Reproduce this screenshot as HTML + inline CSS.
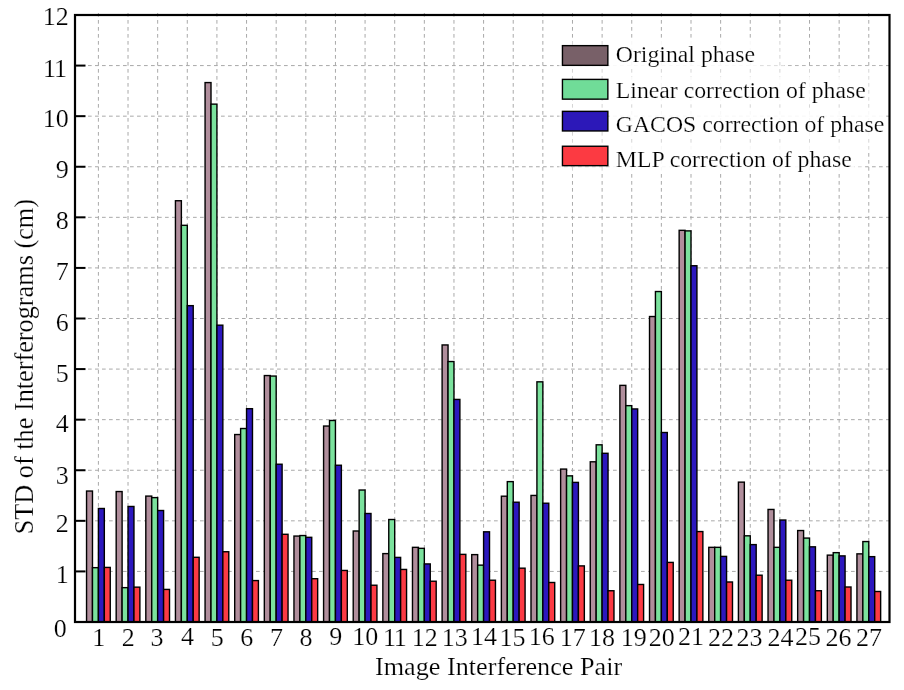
<!DOCTYPE html>
<html lang="en"><head><meta charset="utf-8"><title>STD of the Interferograms</title>
<style>html,body{margin:0;padding:0;background:#fff}body{width:904px;height:690px;overflow:hidden}svg{display:block}</style>
</head><body>
<svg width="904" height="690" viewBox="0 0 904 690">
<rect width="904" height="690" fill="#fff"/>
<g stroke="#a9a9a9" stroke-width="1" stroke-dasharray="3.7 3.3" fill="none">
<path d="M74 571.42H889.5"/>
<path d="M74 520.83H889.5"/>
<path d="M74 470.25H889.5"/>
<path d="M74 419.67H889.5"/>
<path d="M74 369.08H889.5"/>
<path d="M74 318.5H889.5"/>
<path d="M74 267.92H889.5"/>
<path d="M74 217.33H889.5"/>
<path d="M74 166.75H889.5"/>
<path d="M74 116.17H889.5"/>
<path d="M74 65.58H889.5"/>
<path d="M98.4 13V622"/>
<path d="M128.03 13V622"/>
<path d="M157.66 13V622"/>
<path d="M187.29 13V622"/>
<path d="M216.92 13V622"/>
<path d="M246.55 13V622"/>
<path d="M276.18 13V622"/>
<path d="M305.81 13V622"/>
<path d="M335.44 13V622"/>
<path d="M365.07 13V622"/>
<path d="M394.7 13V622"/>
<path d="M424.33 13V622"/>
<path d="M453.96 13V622"/>
<path d="M483.59 13V622"/>
<path d="M513.22 13V622"/>
<path d="M542.85 13V622"/>
<path d="M572.48 13V622"/>
<path d="M602.11 13V622"/>
<path d="M631.74 13V622"/>
<path d="M661.37 13V622"/>
<path d="M691 13V622"/>
<path d="M720.63 13V622"/>
<path d="M750.26 13V622"/>
<path d="M779.89 13V622"/>
<path d="M809.52 13V622"/>
<path d="M839.15 13V622"/>
<path d="M868.78 13V622"/>
</g>
<g stroke="#000" stroke-width="1.4" stroke-linejoin="miter">
<rect x="86.55" y="491.04" width="5.93" height="130.96" fill="#b08e9c"/>
<rect x="92.47" y="567.67" width="5.93" height="54.33" fill="#7be29d"/>
<rect x="98.4" y="508.49" width="5.93" height="113.51" fill="#2c18be"/>
<rect x="104.33" y="567.42" width="5.93" height="54.58" fill="#fc3a44"/>
<rect x="116.18" y="491.55" width="5.93" height="130.45" fill="#b08e9c"/>
<rect x="122.1" y="587.65" width="5.93" height="34.35" fill="#7be29d"/>
<rect x="128.03" y="506.47" width="5.93" height="115.53" fill="#2c18be"/>
<rect x="133.96" y="587.15" width="5.93" height="34.85" fill="#fc3a44"/>
<rect x="145.81" y="496.1" width="5.93" height="125.9" fill="#b08e9c"/>
<rect x="151.73" y="497.62" width="5.93" height="124.38" fill="#7be29d"/>
<rect x="157.66" y="510.51" width="5.93" height="111.49" fill="#2c18be"/>
<rect x="163.59" y="589.42" width="5.93" height="32.58" fill="#fc3a44"/>
<rect x="175.44" y="200.74" width="5.93" height="421.26" fill="#b08e9c"/>
<rect x="181.36" y="225.32" width="5.93" height="396.68" fill="#7be29d"/>
<rect x="187.29" y="305.65" width="5.93" height="316.35" fill="#2c18be"/>
<rect x="193.22" y="557.3" width="5.93" height="64.7" fill="#fc3a44"/>
<rect x="205.07" y="82.58" width="5.93" height="539.42" fill="#b08e9c"/>
<rect x="210.99" y="104.13" width="5.93" height="517.87" fill="#7be29d"/>
<rect x="216.92" y="325.18" width="5.93" height="296.82" fill="#2c18be"/>
<rect x="222.85" y="551.74" width="5.93" height="70.26" fill="#fc3a44"/>
<rect x="234.7" y="434.54" width="5.93" height="187.46" fill="#b08e9c"/>
<rect x="240.62" y="428.52" width="5.93" height="193.48" fill="#7be29d"/>
<rect x="246.55" y="408.69" width="5.93" height="213.31" fill="#2c18be"/>
<rect x="252.48" y="580.57" width="5.93" height="41.43" fill="#fc3a44"/>
<rect x="264.33" y="375.56" width="5.93" height="246.44" fill="#b08e9c"/>
<rect x="270.25" y="376.06" width="5.93" height="245.94" fill="#7be29d"/>
<rect x="276.18" y="464.23" width="5.93" height="157.77" fill="#2c18be"/>
<rect x="282.11" y="534.29" width="5.93" height="87.71" fill="#fc3a44"/>
<rect x="293.96" y="536.06" width="5.93" height="85.94" fill="#b08e9c"/>
<rect x="299.88" y="535.55" width="5.93" height="86.45" fill="#7be29d"/>
<rect x="305.81" y="537.32" width="5.93" height="84.68" fill="#2c18be"/>
<rect x="311.74" y="578.7" width="5.93" height="43.3" fill="#fc3a44"/>
<rect x="323.59" y="426.04" width="5.93" height="195.96" fill="#b08e9c"/>
<rect x="329.51" y="420.48" width="5.93" height="201.52" fill="#7be29d"/>
<rect x="335.44" y="465.24" width="5.93" height="156.76" fill="#2c18be"/>
<rect x="341.37" y="570.45" width="5.93" height="51.55" fill="#fc3a44"/>
<rect x="353.22" y="531" width="5.93" height="91" fill="#b08e9c"/>
<rect x="359.14" y="490.03" width="5.93" height="131.97" fill="#7be29d"/>
<rect x="365.07" y="513.5" width="5.93" height="108.5" fill="#2c18be"/>
<rect x="371" y="585.23" width="5.93" height="36.77" fill="#fc3a44"/>
<rect x="382.85" y="553.61" width="5.93" height="68.39" fill="#b08e9c"/>
<rect x="388.77" y="519.52" width="5.93" height="102.48" fill="#7be29d"/>
<rect x="394.7" y="557.4" width="5.93" height="64.6" fill="#2c18be"/>
<rect x="400.63" y="569.44" width="5.93" height="52.56" fill="#fc3a44"/>
<rect x="412.48" y="547.34" width="5.93" height="74.66" fill="#b08e9c"/>
<rect x="418.4" y="548.35" width="5.93" height="73.65" fill="#7be29d"/>
<rect x="424.33" y="563.93" width="5.93" height="58.07" fill="#2c18be"/>
<rect x="430.26" y="581.23" width="5.93" height="40.77" fill="#fc3a44"/>
<rect x="442.11" y="344.95" width="5.93" height="277.05" fill="#b08e9c"/>
<rect x="448.03" y="361.55" width="5.93" height="260.45" fill="#7be29d"/>
<rect x="453.96" y="399.43" width="5.93" height="222.57" fill="#2c18be"/>
<rect x="459.89" y="554.37" width="5.93" height="67.63" fill="#fc3a44"/>
<rect x="471.74" y="554.62" width="5.93" height="67.38" fill="#b08e9c"/>
<rect x="477.66" y="565.14" width="5.93" height="56.86" fill="#7be29d"/>
<rect x="483.59" y="531.81" width="5.93" height="90.19" fill="#2c18be"/>
<rect x="489.52" y="580.22" width="5.93" height="41.78" fill="#fc3a44"/>
<rect x="501.37" y="496.2" width="5.93" height="125.8" fill="#b08e9c"/>
<rect x="507.29" y="481.63" width="5.93" height="140.37" fill="#7be29d"/>
<rect x="513.22" y="502.22" width="5.93" height="119.78" fill="#2c18be"/>
<rect x="519.15" y="568.18" width="5.93" height="53.82" fill="#fc3a44"/>
<rect x="531" y="495.44" width="5.93" height="126.56" fill="#b08e9c"/>
<rect x="536.92" y="381.83" width="5.93" height="240.17" fill="#7be29d"/>
<rect x="542.85" y="503.23" width="5.93" height="118.77" fill="#2c18be"/>
<rect x="548.78" y="582.49" width="5.93" height="39.51" fill="#fc3a44"/>
<rect x="560.63" y="469.09" width="5.93" height="152.91" fill="#b08e9c"/>
<rect x="566.55" y="475.86" width="5.93" height="146.14" fill="#7be29d"/>
<rect x="572.48" y="482.39" width="5.93" height="139.61" fill="#2c18be"/>
<rect x="578.41" y="565.9" width="5.93" height="56.1" fill="#fc3a44"/>
<rect x="590.26" y="461.8" width="5.93" height="160.2" fill="#b08e9c"/>
<rect x="596.18" y="444.81" width="5.93" height="177.19" fill="#7be29d"/>
<rect x="602.11" y="453.3" width="5.93" height="168.7" fill="#2c18be"/>
<rect x="608.04" y="590.74" width="5.93" height="31.26" fill="#fc3a44"/>
<rect x="619.89" y="385.37" width="5.93" height="236.63" fill="#b08e9c"/>
<rect x="625.81" y="405.65" width="5.93" height="216.35" fill="#7be29d"/>
<rect x="631.74" y="408.94" width="5.93" height="213.06" fill="#2c18be"/>
<rect x="637.67" y="584.47" width="5.93" height="37.53" fill="#fc3a44"/>
<rect x="649.52" y="316.53" width="5.93" height="305.47" fill="#b08e9c"/>
<rect x="655.44" y="291.54" width="5.93" height="330.46" fill="#7be29d"/>
<rect x="661.37" y="432.51" width="5.93" height="189.49" fill="#2c18be"/>
<rect x="667.3" y="562.41" width="5.93" height="59.59" fill="#fc3a44"/>
<rect x="679.15" y="230.33" width="5.93" height="391.67" fill="#b08e9c"/>
<rect x="685.07" y="230.89" width="5.93" height="391.11" fill="#7be29d"/>
<rect x="691" y="265.74" width="5.93" height="356.26" fill="#2c18be"/>
<rect x="696.93" y="531.56" width="5.93" height="90.44" fill="#fc3a44"/>
<rect x="708.78" y="547.34" width="5.93" height="74.66" fill="#b08e9c"/>
<rect x="714.7" y="547.34" width="5.93" height="74.66" fill="#7be29d"/>
<rect x="720.63" y="556.39" width="5.93" height="65.61" fill="#2c18be"/>
<rect x="726.56" y="581.99" width="5.93" height="40.01" fill="#fc3a44"/>
<rect x="738.41" y="482.14" width="5.93" height="139.86" fill="#b08e9c"/>
<rect x="744.33" y="535.81" width="5.93" height="86.19" fill="#7be29d"/>
<rect x="750.26" y="544.61" width="5.93" height="77.39" fill="#2c18be"/>
<rect x="756.19" y="575.21" width="5.93" height="46.79" fill="#fc3a44"/>
<rect x="768.04" y="509.45" width="5.93" height="112.55" fill="#b08e9c"/>
<rect x="773.96" y="547.34" width="5.93" height="74.66" fill="#7be29d"/>
<rect x="779.89" y="520.02" width="5.93" height="101.98" fill="#2c18be"/>
<rect x="785.82" y="580.22" width="5.93" height="41.78" fill="#fc3a44"/>
<rect x="797.67" y="530.54" width="5.93" height="91.46" fill="#b08e9c"/>
<rect x="803.59" y="538.08" width="5.93" height="83.92" fill="#7be29d"/>
<rect x="809.52" y="546.83" width="5.93" height="75.17" fill="#2c18be"/>
<rect x="815.45" y="590.74" width="5.93" height="31.26" fill="#fc3a44"/>
<rect x="827.3" y="555.13" width="5.93" height="66.87" fill="#b08e9c"/>
<rect x="833.22" y="552.65" width="5.93" height="69.35" fill="#7be29d"/>
<rect x="839.15" y="555.89" width="5.93" height="66.11" fill="#2c18be"/>
<rect x="845.08" y="587" width="5.93" height="35" fill="#fc3a44"/>
<rect x="856.93" y="553.86" width="5.93" height="68.14" fill="#b08e9c"/>
<rect x="862.85" y="541.57" width="5.93" height="80.43" fill="#7be29d"/>
<rect x="868.78" y="556.65" width="5.93" height="65.35" fill="#2c18be"/>
<rect x="874.71" y="591.5" width="5.93" height="30.5" fill="#fc3a44"/>
</g>
<g stroke="#000" stroke-width="2" fill="none">
<path d="M75 571.42H85.5"/>
<path d="M75 520.83H85.5"/>
<path d="M75 470.25H85.5"/>
<path d="M75 419.67H85.5"/>
<path d="M75 369.08H85.5"/>
<path d="M75 318.5H85.5"/>
<path d="M75 267.92H85.5"/>
<path d="M75 217.33H85.5"/>
<path d="M75 166.75H85.5"/>
<path d="M75 116.17H85.5"/>
<path d="M75 65.58H85.5"/>
</g>
<rect x="75" y="15" width="814.5" height="607" fill="none" stroke="#000" stroke-width="2.2"/>
<g font-family="'Liberation Serif', 'Times New Roman', serif" fill="#000" stroke="#fff" stroke-width="0.2">
<g font-size="26" text-anchor="end">
<text x="68.8" y="25.4">12</text>
<text x="43.0" y="77.1" text-anchor="start">1<tspan dx="-1.0">1</tspan></text>
<text x="68.8" y="127">10</text>
<text x="68.8" y="178">9</text>
<text x="68.8" y="228.5">8</text>
<text x="68.8" y="280.2">7</text>
<text x="68.8" y="331.4">6</text>
<text x="68.8" y="382">5</text>
<text x="68.8" y="432.4">4</text>
<text x="68.8" y="483.5">3</text>
<text x="68.8" y="532.4">2</text>
<text x="68.8" y="583">1</text>
<text x="66.7" y="636.9">0</text>
</g>
<g font-size="26" text-anchor="middle">
<text x="98.7" y="645.7">1</text>
<text x="128.33" y="645.8">2</text>
<text x="157.06" y="646.1">3</text>
<text x="187.59" y="644.85">4</text>
<text x="217.22" y="645.55">5</text>
<text x="246.85" y="646.4">6</text>
<text x="276.48" y="646">7</text>
<text x="306.11" y="646.1">8</text>
<text x="335.74" y="645.3">9</text>
<text x="365.37" y="645.1">10</text>
<text x="394.8" y="646.1">1<tspan dx="-1.2">1</tspan></text>
<text x="424.83" y="646.4">12</text>
<text x="454.86" y="645.8">13</text>
<text x="484.09" y="645.1">14</text>
<text x="512.52" y="645.8">15</text>
<text x="541.7" y="644.9">16</text>
<text x="572.78" y="645.8">17</text>
<text x="602.11" y="646.1">18</text>
<text x="633.84" y="645.8">19</text>
<text x="661.67" y="645.8">20</text>
<text x="691" y="645">21</text>
<text x="720.93" y="646.1">22</text>
<text x="749.56" y="646.1">23</text>
<text x="780.49" y="646.4">24</text>
<text x="808.02" y="644.9">25</text>
<text x="838.45" y="646.4">26</text>
<text x="869.08" y="646.4">27</text>
</g>
<text x="375.0" y="675.3" font-size="26.2">Image Interference Pair</text>
<text transform="translate(33.2 534.3) rotate(-90)" font-size="26.25">STD of the Interferograms (cm)</text>
<g fill="#fff" fill-opacity="0.5"><rect x="559" y="38" width="225" height="28"/><rect x="559" y="66" width="327" height="84"/><rect x="559" y="150" width="306" height="22"/></g>
<rect x="611" y="40.9" width="146" height="27.5" fill="#fff" fill-opacity="0.8"/>
<rect x="611" y="76.7" width="257" height="27.5" fill="#fff" fill-opacity="0.8"/>
<rect x="611" y="110.2" width="275" height="27.5" fill="#fff" fill-opacity="0.8"/>
<rect x="611" y="145.8" width="243" height="27.5" fill="#fff" fill-opacity="0.8"/>
<rect x="562.45" y="45.65" width="45.4" height="19.7" fill="#786068" stroke="#000" stroke-width="1.4"/>
<text x="615.8" y="62.4" font-size="23.75">Original phase</text>
<rect x="562.45" y="79.4" width="45.4" height="19.75" fill="#70dc98" stroke="#000" stroke-width="1.4"/>
<text x="615.8" y="98.2" font-size="23.75">Linear correction of phase</text>
<rect x="562.45" y="111.35" width="45.4" height="19.6" fill="#2c18b8" stroke="#000" stroke-width="1.4"/>
<text x="615.8" y="131.7" font-size="23.75">GACOS correction of phase</text>
<rect x="562.45" y="146.25" width="45.4" height="19.4" fill="#fc3a42" stroke="#000" stroke-width="1.4"/>
<text x="615.8" y="167.3" font-size="23.75">MLP correction of phase</text>
</g>
</svg>
</body></html>
